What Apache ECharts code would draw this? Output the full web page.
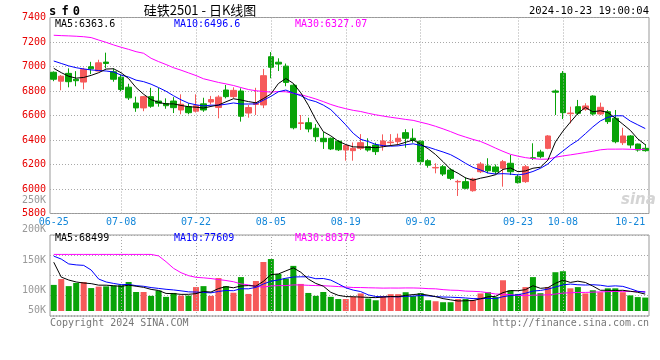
<!DOCTYPE html>
<html><head><meta charset="utf-8">
<script src="https://cdn.jsdelivr.net/npm/echarts@6.0.0/dist/echarts.min.js"></script>
<style>html,body{margin:0;padding:0;background:#fff}#c{width:660px;height:360px}</style>
</head><body><div id="c"></div>
<script>
const dates = ['06-25','06-26','06-27','06-28',
'07-01','07-02','07-03','07-04','07-05','07-08','07-09','07-10','07-11','07-12',
'07-15','07-16','07-17','07-18','07-19','07-22','07-23','07-24','07-25','07-26',
'07-29','07-30','07-31','08-01','08-02','08-05','08-06','08-07','08-08','08-09',
'08-12','08-13','08-14','08-15','08-16','08-19','08-20','08-21','08-22','08-23',
'08-26','08-27','08-28','08-29','08-30','09-02','09-03','09-04','09-05','09-06',
'09-09','09-10','09-11','09-12','09-13','09-18','09-19','09-20',
'09-23','09-24','09-25','09-26','09-27','09-30',
'10-08','10-09','10-10','10-11','10-14','10-15','10-16','10-17','10-18',
'10-21','10-22','10-23'];

const opens = [6953,6880,6944,6896,6873,6998,6963,7036,6957,6913,
6831,6702,6662,6754,6718,6698,6718,6645,6672,6635,
6695,6710,6665,6808,6754,6800,6620,6690,6686,7080,
7035,7003,6847,6535,6541,6496,6414,6414,6390,6318,
6313,6332,6346,6359,6351,6378,6386,6460,6414,6390,
6231,6172,6182,6155,6058,6060,5986,6141,6188,6180,
6169,6210,6101,6060,6255,6302,6332,6800,6944,6615,
6672,6651,6759,6612,6631,6577,6378,6433,6367,6332];
const closes = [6896,6921,6876,6884,6976,6981,7030,7025,6896,6812,
6744,6662,6754,6676,6700,6680,6664,6692,6623,6680,
6645,6730,6750,6754,6805,6594,6665,6700,6925,6994,
7020,6870,6500,6540,6490,6427,6386,6327,6320,6355,
6332,6378,6318,6305,6392,6383,6414,6414,6398,6223,
6194,6176,6122,6087,6062,6006,6082,6204,6149,6141,
6223,6141,6052,6182,6250,6264,6433,6790,6623,6620,
6618,6678,6612,6667,6550,6386,6433,6359,6318,6313];
const lows = [6880,6806,6830,6839,6814,6938,6960,6985,6876,6797,
6727,6630,6635,6663,6672,6655,6620,6610,6610,6625,
6630,6690,6577,6740,6740,6550,6582,6604,6660,6904,
6963,6839,6487,6482,6463,6386,6327,6318,6310,6231,
6231,6318,6305,6278,6313,6351,6367,6337,6378,6196,
6174,6128,6106,6073,5943,5998,5978,6130,6128,6120,
6019,6114,6045,6050,6237,6250,6325,6604,6571,6536,
6604,6639,6600,6604,6531,6373,6359,6332,6305,6305];
const highs = [6960,6930,6985,6962,6990,7038,7055,7113,6985,6935,
6859,6754,6760,6826,6826,6740,6750,6773,6700,6773,
6745,6760,6765,6849,6830,6822,6686,6826,6980,7118,
7067,7024,6860,6604,6582,6530,6465,6420,6400,6365,
6380,6448,6414,6378,6446,6448,6452,6488,6494,6400,
6243,6210,6196,6169,6075,6096,6092,6220,6251,6200,
6237,6278,6120,6196,6373,6320,6440,6812,6963,6672,
6727,6700,6765,6705,6645,6645,6500,6440,6370,6367];
const volumes = [107000,131000,102000,115000,119000,94000,100000,101000,104000,106000,
119000,78000,78000,62000,84000,58000,74000,63000,63000,98000,
102000,62000,135000,102000,75000,139000,70000,123000,201000,213000,
152000,133000,185000,111000,74000,62000,78000,58000,49000,49000,
58000,72000,51000,44000,61000,69000,69000,77000,61000,73000,
44000,40000,36000,36000,49000,49000,44000,72000,77000,58000,
126000,85000,70000,98000,139000,73000,98000,159000,163000,93000,
98000,72000,85000,77000,93000,93000,77000,64000,57000,55000];

// moving-average values before a full window exists
const priceMa5Lead = [6985,6950,6920,6905];
const priceMa10Lead = [7045,7025,7005,6990,6980,6972,6967,6963,6955];
const priceMa30Lead = [7255,7252,7250,7247,7243,7236,7216,7197,7176,7157,7140,7121,7108,7067,7040,7016,6990,6970,6948,6926,6900,6885,6870,6858,6845,6828,6812,6802,6796];
const volMa5Lead = [200000,139000,127000,119000];
const volMa10Lead = [225000,213000,193000,189000,187000,168000,131000,119000,113000];
const volMa30Lead = [232000,232000,232000,232000,232000,232000,232000,232000,232000,232000,232000,232000,232000,232000,226000,202000,175000,157000,145000,138000,136000,133000,129000,125000,120000,111000,107000,101000,98000];

const labelDates = ['06-25','07-08','07-22','08-05','08-19','09-02','09-23','10-08','10-21'];
const gridDates = ['07-08','07-22','08-05','08-19','09-02','09-23','10-08'];
const priceLegend = ['MA5:6363.6','MA10:6496.6','MA30:6327.07'];
const volLegend = ['MA5:68499','MA10:77609','MA30:80379'];
const volTickLabels = ['250K','200K','150K','100K','50K'];
const titleText = '硅铁2501 - 日K线图';
const symbolText = ['s','f','0'];
const timeText = '2024-10-23 19:00:04';

const UP = '#f65a5a', DOWN = '#08a308';
const MONO = '"DejaVu Sans Mono", "Liberation Mono", monospace';

function ma(arr, n, lead) {
  return arr.map((v, i) => {
    if (i < n - 1) return lead[i];
    let s = 0; for (let k = i - n + 1; k <= i; k++) s += arr[k];
    return +(s / n).toFixed(2);
  });
}

const ohlc = dates.map((d, i) => [opens[i], closes[i], lows[i], highs[i]]);
const volData = volumes.map((v, i) => ({value: v, itemStyle: {color: closes[i] >= opens[i] ? UP : DOWN}}));

const chart = echarts.init(document.getElementById('c'), null, {renderer: 'canvas'});
const vline = {
  silent: true, symbol: ['none', 'none'], label: {show: false}, animation: false,
  lineStyle: {color: '#a8a8a8', type: [1, 2], width: 1},
  data: gridDates.map(d => ({xAxis: d}))
};
const lineS = (name, data, color, xi, yi) => ({
  name, type: 'line', data, xAxisIndex: xi, yAxisIndex: yi, showSymbol: false, symbol: 'none',
  lineStyle: {width: 1, color}, itemStyle: {color}, z: 5, animation: false, silent: true
});
const txt = (text, x, y, fill, opts = {}) => ({
  type: 'text', x, y, silent: true, z: 100,
  style: Object.assign({text, fill, font: '10px ' + MONO, textAlign: 'left', textVerticalAlign: 'middle'}, opts)
});

const graphics = [
  txt(symbolText[0], 52.7, 12, '#000', {font: 'bold 12px ' + MONO, textAlign: 'center'}),
  txt(symbolText[1], 65, 12, '#000', {font: 'bold 12px ' + MONO, textAlign: 'center'}),
  txt(symbolText[2], 76.3, 12, '#000', {font: 'bold 12px ' + MONO, textAlign: 'center'}),
  txt(titleText, 200, 10, '#000', {font: '13px "Noto Sans CJK SC", sans-serif', textAlign: 'center'}),
  txt(timeText, 649, 11, '#000', {textAlign: 'right', font: '10.5px ' + MONO}),
  txt(priceLegend[0], 55, 24, '#000'),
  txt(priceLegend[1], 174, 24, '#0000ff'),
  txt(priceLegend[2], 295, 24, '#ff00ff'),
  txt(volLegend[0], 55, 238.5, '#000'),
  txt(volLegend[1], 174, 238.5, '#0000ff'),
  txt(volLegend[2], 295, 238.5, '#ff00ff'),
  txt(volTickLabels[0], 46, 200, '#999', {textAlign: 'right'}),
  txt(volTickLabels[1], 46, 229, '#999', {textAlign: 'right'}),
  txt(volTickLabels[2], 46, 260.5, '#999', {textAlign: 'right'}),
  txt(volTickLabels[3], 46, 290, '#999', {textAlign: 'right'}),
  txt(volTickLabels[4], 46, 310.5, '#999', {textAlign: 'right'}),
  txt('Copyright 2024 SINA.COM', 50, 323, '#777'),
  txt('http://finance.sina.com.cn', 649, 323, '#777', {textAlign: 'right'}),
  txt('sina', 621, 200, '#d4d4d4', {font: 'italic bold 15px "DejaVu Sans", sans-serif'})
];

chart.setOption({
  animation: false,
  backgroundColor: '#fff',
  grid: [
    {left: 50, top: 17.5, width: 599, height: 196, show: true, borderColor: '#999', borderWidth: 1},
    {left: 50, top: 235, width: 599, height: 81, show: true, borderColor: '#999', borderWidth: 1}
  ],
  xAxis: [
    {type: 'category', gridIndex: 0, data: dates, boundaryGap: true,
     axisLine: {show: false}, axisTick: {show: false}, splitLine: {show: false},
     axisLabel: {interval: (i, v) => labelDates.includes(v), color: '#1487d9', fontSize: 10, fontFamily: MONO, margin: 4}},
    {type: 'category', gridIndex: 1, data: dates, boundaryGap: true,
     axisLine: {show: false}, axisTick: {show: false}, splitLine: {show: false}, axisLabel: {show: false}}
  ],
  yAxis: [
    {type: 'value', gridIndex: 0, min: 5800, max: 7400, interval: 200,
     axisLine: {show: false}, axisTick: {show: false},
     axisLabel: {color: '#e80000', fontSize: 10, fontFamily: MONO, margin: 4, formatter: v => String(v)},
     splitLine: {lineStyle: {color: '#a8a8a8', type: [1, 2]}}},
    {type: 'value', gridIndex: 1, min: -20500, max: 311600,
     axisLine: {show: false}, axisTick: {show: false}, axisLabel: {show: false}, splitLine: {show: false}},
    {type: 'value', gridIndex: 1, inverse: true, min: 0, max: 81, interval: 20, position: 'right',
     axisLine: {show: false}, axisTick: {show: false}, axisLabel: {show: false},
     splitLine: {lineStyle: {color: '#a8a8a8', type: [1, 2]}}}
  ],
  series: [
    {type: 'candlestick', name: 'K', data: ohlc, xAxisIndex: 0, yAxisIndex: 0, barWidth: 6, z: 3,
     itemStyle: {color: UP, color0: DOWN, borderColor: UP, borderColor0: DOWN, borderWidth: 1},
     markLine: vline, silent: true},
    lineS('MA30', ma(closes, 30, priceMa30Lead), '#ff00ff', 0, 0),
    lineS('MA10', ma(closes, 10, priceMa10Lead), '#0000ff', 0, 0),
    lineS('MA5', ma(closes, 5, priceMa5Lead), '#000000', 0, 0),
    {type: 'bar', name: 'VOL', data: volData, xAxisIndex: 1, yAxisIndex: 1, barWidth: 6, z: 3, silent: true,
     markLine: vline},
    lineS('VMA30', ma(volumes, 30, volMa30Lead), '#ff00ff', 1, 1),
    lineS('VMA10', ma(volumes, 10, volMa10Lead), '#0000ff', 1, 1),
    lineS('VMA5', ma(volumes, 5, volMa5Lead), '#000000', 1, 1)
  ],
  graphic: graphics
});
</script></body></html>
